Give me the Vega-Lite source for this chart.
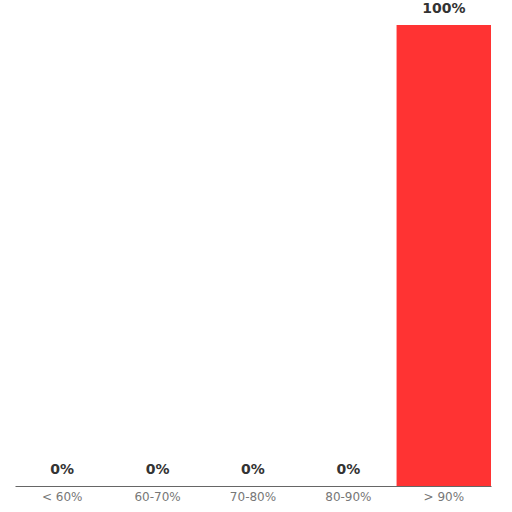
{
  "$schema": "https://vega.github.io/schema/vega-lite/v6.json",
  "width": 476,
  "height": 461,
  "autosize": {"type": "none"},
  "padding": {"left": 15, "top": 25, "right": 21, "bottom": 26},
  "background": "white",
  "config": {"view": {"stroke": null}, "font": "DejaVu Sans"},
  "data": {"values": [
    {"range": "< 60%", "value": 0, "label": "0%"},
    {"range": "60-70%", "value": 0, "label": "0%"},
    {"range": "70-80%", "value": 0, "label": "0%"},
    {"range": "80-90%", "value": 0, "label": "0%"},
    {"range": "> 90%", "value": 100, "label": "100%"}
  ]},
  "encoding": {
    "x": {"field": "range", "type": "nominal", "sort": null,
      "scale": {"paddingInner": 0.01, "paddingOuter": 0},
      "axis": {"title": null, "labelAngle": 0, "ticks": false, "domainColor": "#666666", "labelColor": "#777777", "labelFontSize": 12, "labelPadding": 5, "labelFont": "DejaVu Sans"}},
    "y": {"field": "value", "type": "quantitative", "scale": {"domain": [0, 100]}, "axis": null}
  },
  "layer": [
    {"mark": {"type": "bar", "color": "#ff3333"}},
    {"mark": {"type": "text", "baseline": "bottom", "dy": -9, "fontSize": 14, "fontWeight": "bold", "color": "#333333", "font": "DejaVu Sans"},
     "encoding": {"text": {"field": "label", "type": "nominal"}}}
  ]
}
